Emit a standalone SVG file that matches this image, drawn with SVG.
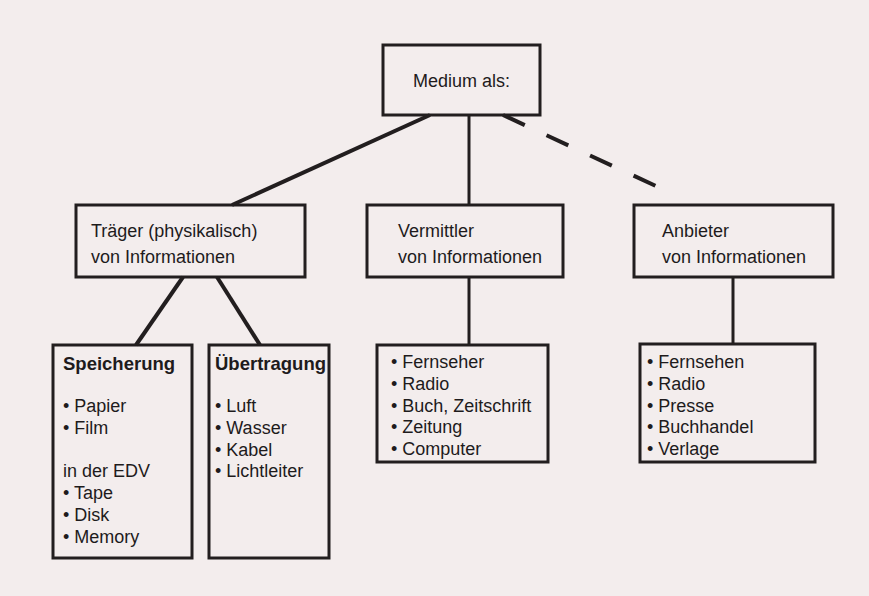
<svg xmlns="http://www.w3.org/2000/svg" width="869" height="596" viewBox="0 0 869 596">
<style>
.box{fill:none;stroke:#221e1f;stroke-width:3}
.ln{stroke:#221e1f;stroke-width:4;fill:none}
.thin{stroke:#221e1f;stroke-width:3;fill:none}
text{font-family:"Liberation Sans",Arial,sans-serif;fill:#1e1b1c}
.t{font-size:18px}
.l{font-size:18px}
.b{font-size:18.5px;font-weight:bold}
</style>
<rect width="869" height="596" fill="#f3eded"/>
<g id="connectors">
<line class="ln" x1="430" y1="115" x2="232" y2="205"/>
<line class="thin" x1="469" y1="115" x2="469" y2="205"/>
<line class="ln" x1="503" y1="115" x2="673" y2="194" stroke-dasharray="24,24"/>
<line class="ln" x1="183" y1="277" x2="136" y2="345"/>
<line class="ln" x1="217" y1="277" x2="260" y2="345"/>
<line class="thin" x1="469" y1="277" x2="469" y2="345"/>
<line class="thin" x1="733" y1="277" x2="733" y2="344"/>
</g>
<g id="medium">
<rect class="box" x="383" y="45" width="157" height="70"/>
<text class="t" x="413" y="87">Medium als:</text>
</g>
<g id="traeger">
<rect class="box" x="76" y="205" width="229" height="72"/>
<text class="t" x="91" y="237">Träger (physikalisch)</text>
<text class="t" x="91" y="263">von Informationen</text>
</g>
<g id="vermittler">
<rect class="box" x="367" y="205" width="196" height="72"/>
<text class="t" x="398" y="237">Vermittler</text>
<text class="t" x="398" y="263">von Informationen</text>
</g>
<g id="anbieter">
<rect class="box" x="634" y="205" width="199" height="72"/>
<text class="t" x="662" y="237">Anbieter</text>
<text class="t" x="662" y="263">von Informationen</text>
</g>
<g id="speicherung">
<rect class="box" x="53" y="345" width="139" height="213"/>
<text class="b" x="63" y="370">Speicherung</text>
<text class="l" x="63" y="412">• Papier</text>
<text class="l" x="63" y="434">• Film</text>
<text class="l" x="63" y="477">in der EDV</text>
<text class="l" x="63" y="499">• Tape</text>
<text class="l" x="63" y="521">• Disk</text>
<text class="l" x="63" y="543">• Memory</text>
</g>
<g id="uebertragung">
<rect class="box" x="209" y="345" width="120" height="213"/>
<text class="b" x="215" y="370">Übertragung</text>
<text class="l" x="215" y="412">• Luft</text>
<text class="l" x="215" y="434">• Wasser</text>
<text class="l" x="215" y="456">• Kabel</text>
<text class="l" x="215" y="477">• Lichtleiter</text>
</g>
<g id="vermittler-liste">
<rect class="box" x="377" y="345" width="171" height="117"/>
<text class="l" x="391" y="368">• Fernseher</text>
<text class="l" x="391" y="390">• Radio</text>
<text class="l" x="391" y="412">• Buch, Zeitschrift</text>
<text class="l" x="391" y="433">• Zeitung</text>
<text class="l" x="391" y="455">• Computer</text>
</g>
<g id="anbieter-liste">
<rect class="box" x="640" y="344" width="175" height="118"/>
<text class="l" x="647" y="368">• Fernsehen</text>
<text class="l" x="647" y="390">• Radio</text>
<text class="l" x="647" y="412">• Presse</text>
<text class="l" x="647" y="433">• Buchhandel</text>
<text class="l" x="647" y="455">• Verlage</text>
</g>
</svg>
